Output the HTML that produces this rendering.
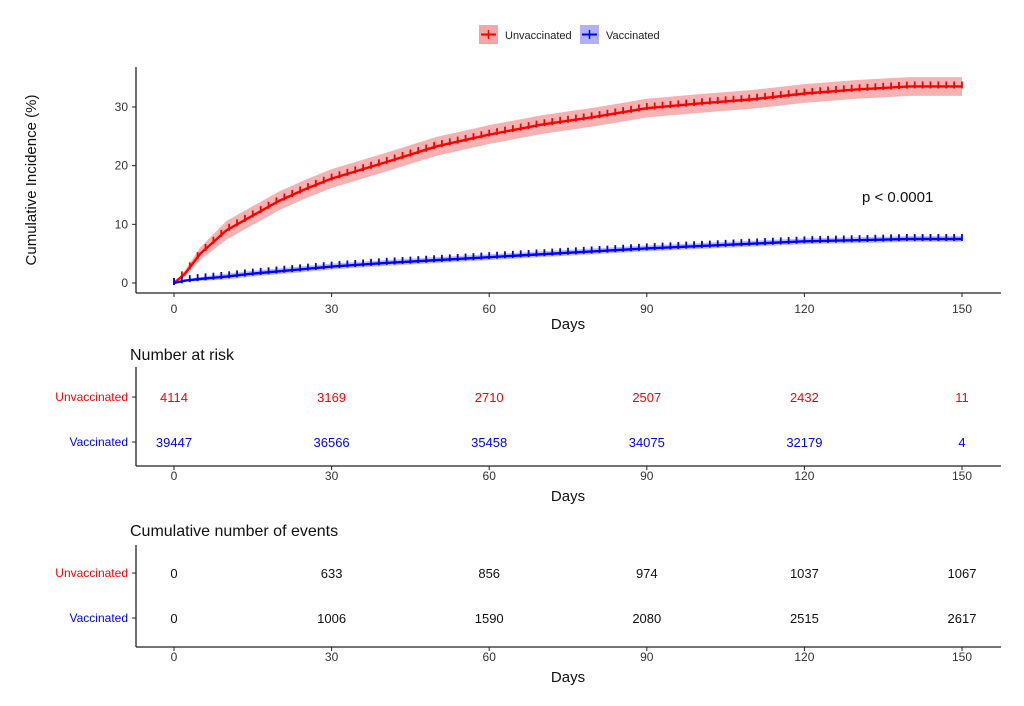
<!DOCTYPE html>
<html><head><meta charset="utf-8"><style>
body{margin:0;background:#fff;}
svg{font-family:"Liberation Sans",sans-serif;}
</style></head><body>
<svg id="c" width="1024" height="701" viewBox="0 0 1024 701" xmlns="http://www.w3.org/2000/svg">
<g>
<rect x="479" y="25" width="19" height="19" fill="#f5a5a5"/>
<line x1="481" y1="34.5" x2="496" y2="34.5" stroke="#f00" stroke-width="2"/>
<line x1="488.5" y1="30" x2="488.5" y2="39" stroke="#f00" stroke-width="1.5"/>
<text x="505" y="39" font-size="11" fill="#222">Unvaccinated</text>
<rect x="580" y="25" width="19" height="19" fill="#b0b0ff"/>
<line x1="582" y1="34.5" x2="597" y2="34.5" stroke="#00f" stroke-width="2"/>
<line x1="589.5" y1="30" x2="589.5" y2="39" stroke="#00f" stroke-width="1.5"/>
<text x="606" y="39" font-size="11" fill="#222">Vaccinated</text>
</g>
<g id="main"></g>
<text x="862" y="202" font-size="15" fill="#111">p &lt; 0.0001</text>
<text transform="translate(36,180) rotate(-90)" text-anchor="middle" font-size="15" fill="#111">Cumulative Incidence (%)</text>
<text x="568" y="329" text-anchor="middle" font-size="15" fill="#111">Days</text>
<text x="130" y="360" font-size="16" fill="#111">Number at risk</text>
<text x="130" y="536" font-size="16" fill="#111">Cumulative number of events</text>
<g id="tables"></g>
</svg>
<script>
const days=[0,2,5,10,15,20,25,30,40,50,60,70,80,90,100,110,120,130,140,150];
const unvac=[0,1.5,5,9,11.5,14,16,17.8,20.5,23.3,25.3,27,28.3,29.8,30.6,31.3,32.3,33,33.5,33.5];
const vac=[0,0.4,0.7,1.1,1.6,2.0,2.4,2.8,3.4,3.9,4.4,4.9,5.4,5.9,6.3,6.7,7.1,7.3,7.5,7.5];
const unvacBand=1.6, vacBand=0.5;
const xTicks=[0,30,60,90,120,150];
const yTicks=[0,10,20,30];
const riskUnvac=["4114","3169","2710","2507","2432","11"];
const riskVac=["39447","36566","35458","34075","32179","4"];
const evUnvac=["0","633","856","974","1037","1067"];
const evVac=["0","1006","1590","2080","2515","2617"];
const NS="http://www.w3.org/2000/svg";
const X=d=>174+d*(962-174)/150;
const Y=v=>283-v*(283-107)/30;
function mk(tag,attrs,parent,txt){const e=document.createElementNS(NS,tag);for(const k in attrs)e.setAttribute(k,attrs[k]);if(txt!==undefined)e.textContent=txt;parent.appendChild(e);return e;}
const g=document.getElementById('main');
function stepPath(vals,off){let d='';days.forEach((dd,i)=>{const y=Y(Math.max(0,vals[i]+off));if(i==0)d+=`M${X(dd)},${y}`;else d+=`L${X(dd)},${y}`;});return d;}
function band(vals,w){let top=days.map((d,i)=>`${X(d)},${Y(vals[i]+w*Math.min(1,i/3))}`);let bot=days.map((d,i)=>`${X(d)},${Y(Math.max(0,vals[i]-w*Math.min(1,i/3)))}`).reverse();return 'M'+top.join('L')+'L'+bot.join('L')+'Z';}
let e;
e=mk('path',{d:band(unvac,unvacBand),fill:'#f5a5a5',opacity:0.85},g);


e=mk('path',{d:band(vac,vacBand),fill:'#b0b0ff',opacity:0.85},g);


function ticksAlong(vals,color,name){const pts=[];for(let d=0;d<=150;d+=1.5){let i=0;while(i<days.length-2&&days[i+1]<d)i++;const t=(d-days[i])/(days[i+1]-days[i]);pts.push([X(d),Y(vals[i]+t*(vals[i+1]-vals[i]))]);}
let dd='';pts.forEach(p=>{dd+=`M${p[0]},${p[1]-5}L${p[0]},${p[1]+2}`;});const el=mk('path',{d:dd,stroke:color,'stroke-width':1.8,fill:'none'},g);

}
e=mk('path',{d:stepPath(unvac,0),stroke:'#f00','stroke-width':2.4,fill:'none'},g);


ticksAlong(unvac,'#f00','unvaccinated-censor-marks');
e=mk('path',{d:stepPath(vac,0),stroke:'#00f','stroke-width':2.4,fill:'none'},g);


ticksAlong(vac,'#00f','vaccinated-censor-marks');
function xAxis(y,labY,name){const a=mk('line',{x1:136,y1:y,x2:1001,y2:y,stroke:'#222','stroke-width':1.3},g);


xTicks.forEach(t=>{mk('line',{x1:X(t),y1:y,x2:X(t),y2:y+4,stroke:'#222'},g);const l=mk('text',{x:X(t),y:labY,'text-anchor':'middle','font-size':12,fill:'#333'},g,String(t));

});}
xAxis(293,313,'x-axis');
e=mk('line',{x1:136,y1:67,x2:136,y2:293,stroke:'#222','stroke-width':1.3},g);


yTicks.forEach(t=>{mk('line',{x1:132,y1:Y(t),x2:136,y2:Y(t),stroke:'#222'},g);const l=mk('text',{x:128,y:Y(t)+4,'text-anchor':'end','font-size':12,fill:'#333'},g,String(t));

});
function table(top,axisY,rowsY,rowsData,colors,numColors,prefix){
const l=mk('line',{x1:136,y1:top,x2:136,y2:axisY,stroke:'#222','stroke-width':1.3},g);


xAxis(axisY,axisY+14,prefix+'-x-axis');
const d=mk('text',{x:568,y:axisY+35,'text-anchor':'middle','font-size':15,fill:'#111'},g,'Days');


['Unvaccinated','Vaccinated'].forEach((n,r)=>{mk('line',{x1:132,y1:rowsY[r],x2:136,y2:rowsY[r],stroke:'#222'},g);
const t=mk('text',{x:128,y:rowsY[r]+4,'text-anchor':'end','font-size':12,fill:colors[r]},g,n);


rowsData[r].forEach((v,i)=>{const c=mk('text',{x:X(xTicks[i]),y:rowsY[r]+5,'text-anchor':'middle','font-size':13,fill:numColors[r]},g,v);

});});}
table(367,466,[397,442],[riskUnvac,riskVac],['#f00','#00f'],['#f00','#00f'],'risk-table');
table(545,647,[573,618],[evUnvac,evVac],['#f00','#00f'],['#111','#111'],'events-table');
</script>
</body></html>
